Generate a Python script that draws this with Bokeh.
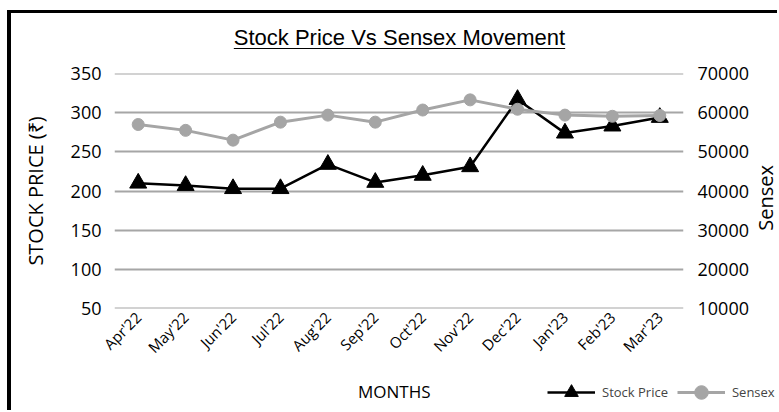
from bokeh.plotting import figure
from bokeh.models import Range1d, LinearAxis, Legend, LegendItem, FixedTicker, Div
from bokeh.layouts import column, row
from bokeh.embed import file_html
from bokeh.resources import INLINE
import math

months = ["Apr'22", "May'22", "Jun'22", "Jul'22", "Aug'22", "Sep'22",
          "Oct'22", "Nov'22", "Dec'22", "Jan'23", "Feb'23", "Mar'23"]
stock_price = [210, 207, 203, 203, 234, 211, 220, 231, 317, 274, 283, 294]
sensex = [57000, 55500, 53000, 57600, 59400, 57600, 60700, 63300, 60900, 59400, 59100, 59300]
price_ticks = [50, 100, 150, 200, 250, 300, 350]
sensex_ticks = [10000, 20000, 30000, 40000, 50000, 60000, 70000]
title_text = "Stock Price Vs Sensex Movement"
x_label = "MONTHS"
y_label = "STOCK PRICE (₹)"
y2_label = "Sensex"

FONT = "Open Sans"
GRID = "#A6A6A6"
GREY = "#A5A5A5"

title = Div(text=('<div style="width:766px;box-sizing:border-box;text-align:center;padding-top:9px;'
                  'padding-left:11px;font-family:\'Liberation Sans\';font-size:22px;color:black;'
                  'text-decoration:underline;text-decoration-thickness:1px;text-underline-offset:3px;">'
                  + title_text + '</div>'),
            width=766, height=38, margin=(0, 0, 0, 0))

p = figure(x_range=months, y_range=Range1d(49.8, 350.2), width=744, height=321,
           output_backend="svg", toolbar_location=None, margin=(0, 0, 0, 0),
           min_border_left=103, min_border_right=72, min_border_top=22, min_border_bottom=64)
p.extra_y_ranges = {"sensex": Range1d(9960, 70040)}

p.outline_line_color = None
p.xgrid.grid_line_color = None
p.ygrid.grid_line_color = GRID
p.ygrid.grid_line_width = 2
p.ygrid.ticker = FixedTicker(ticks=price_ticks)

def style_axis(ax):
    ax.axis_line_color = None
    ax.major_tick_line_color = None
    ax.minor_tick_line_color = None
    ax.major_tick_out = 0
    ax.major_tick_in = 0
    ax.minor_tick_out = 0
    ax.minor_tick_in = 0
    ax.major_label_text_font = FONT
    ax.major_label_text_color = "black"
    ax.axis_label_text_font = FONT
    ax.axis_label_text_font_style = "normal"
    ax.axis_label_text_color = "black"

ly = p.yaxis[0]
style_axis(ly)
ly.ticker = FixedTicker(ticks=price_ticks)
ly.major_label_text_font_size = "18px"
ly.major_label_standoff = 13
ly.axis_label = y_label
ly.axis_label_text_font_size = "20px"
ly.axis_label_standoff = 19

ry = LinearAxis(y_range_name="sensex", ticker=FixedTicker(ticks=sensex_ticks))
style_axis(ry)
ry.major_label_text_font_size = "18px"
ry.major_label_standoff = 14
p.add_layout(ry, "right")

xa = p.xaxis[0]
style_axis(xa)
xa.major_label_orientation = math.pi / 4
xa.major_label_text_font_size = "15px"
xa.major_label_standoff = 6

sl = p.line(months, stock_price, line_color="black", line_width=2.5)
sm = p.scatter(months, stock_price, marker="triangle", size=17, fill_color="black", line_color="black")
xl = p.line(months, sensex, y_range_name="sensex", line_color=GREY, line_width=3)
xm = p.scatter(months, sensex, y_range_name="sensex", marker="circle", size=12,
               fill_color=GREY, line_color=GREY)

# secondary axis title, read bottom to top
y2 = Div(text=('<div style="padding-top:114px;"><div style="writing-mode:vertical-rl;transform:rotate(180deg);'
               'font-family:\'Open Sans\';font-size:20px;line-height:22px;color:black;white-space:nowrap;">'
               + y2_label + '</div></div>'),
         width=22, height=321, margin=(0, 0, 0, 0))

# x-axis title and legend share one row under the chart
xlab = Div(text=('<div style="padding-left:347px;padding-top:8px;font-family:\'Open Sans\';'
                 'font-size:17px;color:black;white-space:nowrap;">' + x_label + '</div>'),
           width=524, height=38, margin=(0, 0, 0, 0))

# legend panel: same series drawn against a y window that keeps them out of view
lg = figure(width=242, height=38, output_backend="svg", toolbar_location=None,
            x_range=months, y_range=Range1d(0, 1), min_border=0,
            x_axis_location=None, y_axis_location=None, margin=(0, 0, 0, 0))
lg.outline_line_color = None
lg.grid.visible = False
ksl = lg.line(months, stock_price, line_color="black", line_width=2.5)
ksm = lg.scatter(months, stock_price, marker="triangle", size=17, fill_color="black", line_color="black")
kxl = lg.line(months, sensex, line_color=GREY, line_width=3)
kxm = lg.scatter(months, sensex, marker="circle", size=12, fill_color=GREY, line_color=GREY)
legend = Legend(items=[LegendItem(label="Stock Price", renderers=[ksl, ksm]),
                       LegendItem(label="Sensex", renderers=[kxl, kxm])],
                orientation="horizontal", location=(12, 1), glyph_width=48, glyph_height=34,
                label_text_font=FONT, label_text_font_size="13px", border_line_color=None,
                background_fill_alpha=0, padding=0, spacing=9, label_standoff=7, margin=0)
lg.add_layout(legend)

layout = column(title, row(p, y2, spacing=0, margin=(0, 0, 0, 0)),
                row(xlab, lg, spacing=0, margin=(0, 0, 0, 0)), spacing=0, margin=(10, 0, 0, 7),
                styles={"border-left": "4px solid black", "border-top": "3px solid black"})

open("out.html", "w").write(file_html(layout, INLINE))
